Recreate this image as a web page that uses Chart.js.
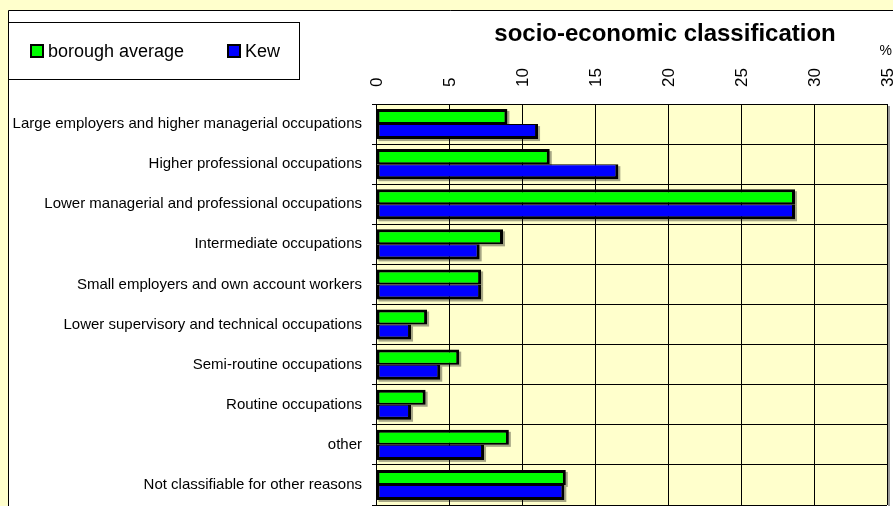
<!DOCTYPE html>
<html>
<head>
<meta charset="utf-8">
<script src="https://cdn.jsdelivr.net/npm/chart.js@4.4.1/dist/chart.umd.min.js"></script>
<style>
html,body{margin:0;padding:0;background:#ffffcc;}
canvas{display:block;}
</style>
</head>
<body>
<canvas id="c" width="893" height="506"></canvas>
<script>
const categories = [
  'Large employers and higher managerial occupations',
  'Higher professional occupations',
  'Lower managerial and professional occupations',
  'Intermediate occupations',
  'Small employers and own account workers',
  'Lower supervisory and technical occupations',
  'Semi-routine occupations',
  'Routine occupations',
  'other',
  'Not classifiable for other reasons'
];
const boroughAverage = [9.0, 11.9, 28.7, 8.7, 7.2, 3.5, 5.7, 3.4, 9.1, 13.0];
const kew = [11.1, 16.6, 28.7, 7.1, 7.2, 2.4, 4.4, 2.4, 7.4, 12.9];
const xMin = 0, xMax = 35, xStep = 5;
const titleText = 'socio-economic classification';
const unitText = '%';
const seriesNames = ['borough average', 'Kew'];

function labelFont(){
  const c = document.createElement('canvas').getContext('2d');
  c.font = '18px "Liberation Sans Narrow", monospace';
  const w1 = c.measureText('Large employers and higher').width;
  c.font = '18px "Liberation Sans", monospace';
  const w2 = c.measureText('Large employers and higher').width;
  if (w1 < w2 * 0.9) return {family: '"Liberation Sans Narrow", "Liberation Sans", Arial', size: 18.3};
  return {family: '"Liberation Sans", Arial, sans-serif', size: 15};
}
const LF = labelFont();

const decor = {
  id: 'decor',
  beforeDraw(chart){
    const ctx = chart.ctx, a = chart.chartArea;
    ctx.save();
    ctx.fillStyle = '#ffffcc';
    ctx.fillRect(0,0,chart.width,chart.height);
    ctx.fillStyle = '#ffffff';
    ctx.fillRect(8,10,chart.width,chart.height);
    ctx.strokeStyle = '#000'; ctx.lineWidth = 1;
    ctx.beginPath(); ctx.moveTo(8.5, chart.height); ctx.lineTo(8.5,10.5); ctx.lineTo(chart.width,10.5); ctx.stroke();
    ctx.fillStyle = '#ffffcc';
    ctx.fillRect(a.left, a.top, a.right - a.left, a.bottom - a.top);
    ctx.fillStyle = '#9a9a9a';
    ctx.fillRect(a.right+1, a.top+2, 2, a.bottom - a.top);
    ctx.restore();
  },
  beforeDatasetsDraw(chart){
    const ctx = chart.ctx;
    ctx.save();
    ctx.fillStyle = 'rgba(0,0,0,0.35)';
    chart.data.datasets.forEach((ds, i) => {
      chart.getDatasetMeta(i).data.forEach(el => {
        const l = Math.min(el.base, el.x), r = Math.max(el.base, el.x);
        const t = el.y - el.height/2;
        ctx.fillRect(l+2, t+2, r-l, el.height);
      });
    });
    ctx.restore();
  },
  afterDraw(chart){
    const ctx = chart.ctx;
    ctx.save();
    ctx.fillStyle = '#000';
    ctx.font = 'bold 24px "Liberation Sans", Arial, sans-serif';
    ctx.textAlign = 'center'; ctx.textBaseline = 'alphabetic';
    ctx.fillText(titleText, 665, 41);
    ctx.font = '14px "Liberation Sans", Arial, sans-serif';
    ctx.textAlign = 'right';
    ctx.fillText(unitText, 892, 55);
    ctx.fillStyle = '#fff';
    ctx.fillRect(8.5, 22.5, 291, 57);
    ctx.strokeStyle = '#000'; ctx.lineWidth = 1;
    ctx.strokeRect(8.5, 22.5, 291, 57);
    const items = [{x:30, tx:48, c:'#00ff00'}, {x:227, tx:245, c:'#0000ff'}];
    items.forEach((it, i) => {
      ctx.fillStyle = '#000';
      ctx.fillRect(it.x, 44, 14, 14);
      ctx.fillStyle = it.c;
      ctx.fillRect(it.x+2, 46, 10, 10);
      ctx.fillStyle = '#000';
      ctx.font = '18px "Liberation Sans", Arial, sans-serif';
      ctx.textAlign = 'left';
      ctx.fillText(seriesNames[i], it.tx, 57);
    });
    ctx.restore();
  }
};

function noPad(s){ s.paddingLeft = 0; s.paddingRight = 0; s.paddingTop = 0; s.paddingBottom = 0; }

new Chart(document.getElementById('c'), {
  type: 'bar',
  data: {
    labels: categories,
    datasets: [
      {label: seriesNames[0], data: boroughAverage, backgroundColor: '#00ff00', borderColor: '#000',
       borderWidth: {top:3, left:3, right:3, bottom:2}, borderSkipped: false},
      {label: seriesNames[1], data: kew, backgroundColor: '#0000ff', borderColor: '#000',
       borderWidth: {top:1, left:3, right:3, bottom:3}, borderSkipped: false}
    ]
  },
  options: {
    indexAxis: 'y',
    responsive: false,
    animation: false,
    devicePixelRatio: 1,
    layout: {padding: {left: 0, top: 0, right: 6, bottom: 1}},
    datasets: {bar: {categoryPercentage: 0.75, barPercentage: 1.0}},
    plugins: {legend: {display: false}, title: {display: false}, tooltip: {enabled: false}},
    scales: {
      x: {
        position: 'top', min: xMin, max: xMax,
        ticks: {stepSize: xStep, minRotation: 90, maxRotation: 90, padding: 17, labelOffset: 21.5, color: '#000',
                font: {family: '"Liberation Sans", Arial, sans-serif', size: 17}},
        grid: {color: '#000', lineWidth: 1, drawTicks: false},
        border: {display: true, color: '#000', width: 1},
        afterFit(s){ s.height = 104; noPad(s); }
      },
      y: {
        ticks: {padding: 10, color: '#000', autoSkip: false,
                font: {family: LF.family, size: LF.size}},
        grid: {color: '#000', lineWidth: 1, offset: true, drawTicks: true, tickLength: 4},
        border: {display: true, color: '#000', width: 1},
        afterFit(s){ s.width = 376; noPad(s); }
      }
    }
  },
  plugins: [decor]
});
</script>
</body>
</html>
